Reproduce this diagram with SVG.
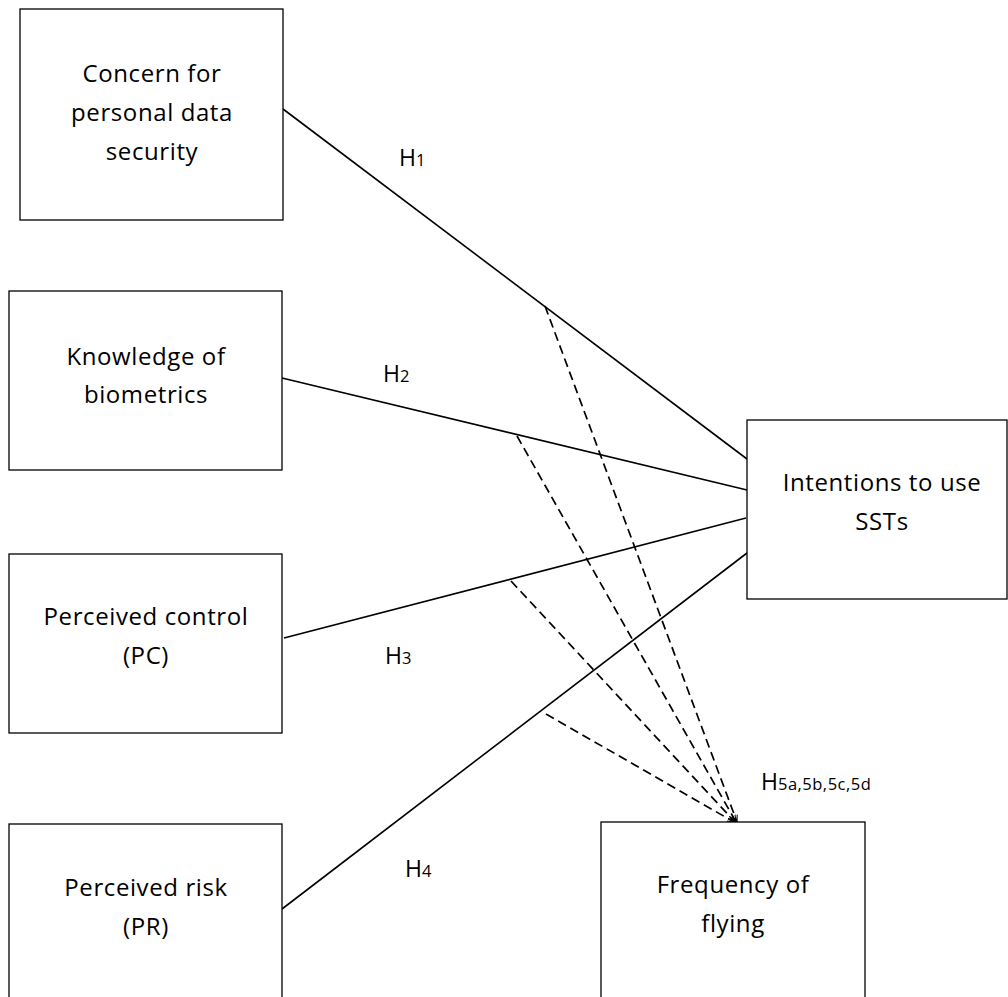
<svg xmlns="http://www.w3.org/2000/svg" width="1008" height="997" viewBox="0 0 1008 997">
<style>
.box{fill:#fff;stroke:#000;stroke-width:1.3}
.t{font-family:"Open Sans","Liberation Sans",sans-serif;font-size:24px;letter-spacing:0.6px;fill:#000;text-anchor:middle}
.h{font-family:"Open Sans","Liberation Sans",sans-serif;font-size:23px;fill:#000}
.sub{font-size:16.5px;letter-spacing:0.5px}
.solid{stroke:#000;stroke-width:1.6;fill:none}
.dash{stroke:#000;stroke-width:1.7;fill:none;stroke-dasharray:9 5;marker-end:url(#arr)}
</style>
<defs>
<marker id="arr" viewBox="0 0 10 10" refX="10" refY="5" markerWidth="7" markerHeight="7" markerUnits="userSpaceOnUse" orient="auto">
<path d="M0,1 L10,5 L0,9" fill="none" stroke="#000" stroke-width="1.5"/>
</marker>
</defs>
<g id="connectors">
<line class="solid" x1="283" y1="109" x2="747" y2="459"/>
<line class="solid" x1="282" y1="378" x2="747" y2="490"/>
<line class="solid" x1="284" y1="638" x2="746" y2="518"/>
<line class="solid" x1="282" y1="909" x2="747" y2="553"/>
<line class="dash" x1="545" y1="306" x2="737" y2="822"/>
<line class="dash" x1="517" y1="436" x2="736" y2="822"/>
<line class="dash" x1="511" y1="581" x2="735" y2="822"/>
<line class="dash" x1="546" y1="714" x2="734" y2="822"/>
</g>
<g id="n1"><rect class="box" x="20" y="9" width="263" height="211"/>
<text class="t" x="152" y="82">Concern for</text><text class="t" x="152" y="121">personal data</text><text class="t" x="152" y="160">security</text></g>
<g id="n2"><rect class="box" x="9" y="291" width="273" height="179"/>
<text class="t" x="146" y="365">Knowledge of</text><text class="t" x="146" y="403">biometrics</text></g>
<g id="n3"><rect class="box" x="9" y="554" width="273" height="179"/>
<text class="t" x="146" y="625">Perceived control</text><text class="t" x="146" y="664">(PC)</text></g>
<g id="n4"><rect class="box" x="9" y="824" width="273" height="190"/>
<text class="t" x="146" y="896">Perceived risk</text><text class="t" x="146" y="935">(PR)</text></g>
<g id="n5"><rect class="box" x="747" y="420" width="260" height="179"/>
<text class="t" x="882" y="491">Intentions to use</text><text class="t" x="882" y="530">SSTs</text></g>
<g id="n6"><rect class="box" x="601" y="822" width="264" height="190"/>
<text class="t" x="733" y="893">Frequency of</text><text class="t" x="733" y="932">flying</text></g>
<g id="labels">
<text class="h" x="399" y="166">H<tspan class="sub">1</tspan></text>
<text class="h" x="383" y="382">H<tspan class="sub">2</tspan></text>
<text class="h" x="385" y="664">H<tspan class="sub">3</tspan></text>
<text class="h" x="405" y="877">H<tspan class="sub">4</tspan></text>
<text class="h" x="761" y="790">H<tspan class="sub">5a,5b,5c,5d</tspan></text>
</g>
</svg>
